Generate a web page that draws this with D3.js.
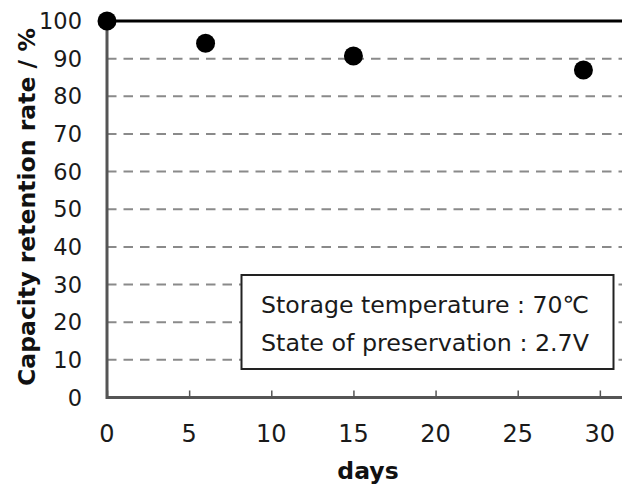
<!DOCTYPE html>
<html><head><meta charset="utf-8">
<script src="https://cdn.jsdelivr.net/npm/d3@7"></script>
<style>body{margin:0;background:#fff}svg{display:block}</style>
</head><body>
<svg id="c" width="622" height="493"></svg>
<script>
const days = [0, 6, 15, 29];
const retention = [100, 94.1, 90.7, 87.0];
const xTicks = [0, 5, 10, 15, 20, 25, 30];
const yTicks = [0, 10, 20, 30, 40, 50, 60, 70, 80, 90, 100];
const legendLines = ["Storage temperature : 70\u2103", "State of preservation : 2.7V"];
const xTitle = "days";
const yTitle = "Capacity retention rate / %";

const svg = d3.select("#c");
const font = "'DejaVu Sans', Verdana, sans-serif";
const x = d3.scaleLinear().domain([0, 31.5]).range([107, 624.5]);
const y = d3.scaleLinear().domain([0, 100]).range([397.5, 21]);

// gridlines
svg.append("g").selectAll("line").data(yTicks.filter(d => d > 0 && d < 100)).join("line")
  .attr("x1", x(0)).attr("x2", 622).attr("y1", d => y(d)).attr("y2", d => y(d))
  .attr("stroke", "#8a8a8a").attr("stroke-width", 2).attr("stroke-dasharray", "9.5,7");

// top solid line at 100
svg.append("line").attr("x1", x(0)).attr("x2", 622).attr("y1", y(100)).attr("y2", y(100))
  .attr("stroke", "#000").attr("stroke-width", 3);

// x axis
const xAxis = svg.append("g").attr("transform", `translate(0,${y(0)})`)
  .call(d3.axisBottom(x).tickValues(xTicks).tickSize(-7).tickPadding(0).tickFormat(""));
xAxis.select(".domain").attr("stroke", "#555").attr("stroke-width", 3).attr("d", `M${x(0)},0H622`);
xAxis.selectAll(".tick line").attr("stroke", "#555").attr("stroke-width", 1.5);
svg.append("g").selectAll("text").data(xTicks).join("text")
  .attr("x", d => x(d)).attr("y", 442).attr("text-anchor", "middle")
  .attr("font-family", font).attr("font-size", 24).attr("fill", "#1a1a1a").text(d => d);

// y axis
const yAxis = svg.append("g").attr("transform", `translate(${x(0)},0)`)
  .call(d3.axisLeft(y).tickValues(yTicks).tickSize(0).tickFormat(""));
yAxis.select(".domain").attr("stroke", "#555").attr("stroke-width", 3).attr("d", `M0,${y(100)}V${y(0)+1.5}`);
svg.append("g").selectAll("text").data(yTicks).join("text")
  .attr("x", 82).attr("y", d => y(d)).attr("dy", "0.36em").attr("text-anchor", "end")
  .attr("font-family", font).attr("font-size", 22.5).attr("fill", "#1a1a1a").text(d => d);

// titles
svg.append("text").attr("x", 368).attr("y", 479).attr("text-anchor", "middle")
  .attr("font-family", font).attr("font-weight", "bold").attr("font-size", 23.5)
  .attr("fill", "#111").text(xTitle);
svg.append("text").attr("transform", "translate(35,207) rotate(-90)").attr("text-anchor", "middle")
  .attr("font-family", font).attr("font-weight", "bold").attr("font-size", 23)
  .attr("fill", "#111").attr("textLength", 358).attr("lengthAdjust", "spacingAndGlyphs").text(yTitle);

// legend box
svg.append("rect").attr("x", 241.5).attr("y", 275).attr("width", 372).attr("height", 94)
  .attr("fill", "#fff").attr("stroke", "#222").attr("stroke-width", 2);
svg.append("g").selectAll("text").data(legendLines).join("text")
  .attr("x", 261).attr("y", (d, i) => 313 + i * 38)
  .attr("font-family", font).attr("font-size", 23.5).attr("fill", "#1a1a1a")
  .attr("textLength", 328).attr("lengthAdjust", "spacingAndGlyphs").text(d => d);

// points
svg.append("g").selectAll("circle").data(days.map((d, i) => [d, retention[i]])).join("circle")
  .attr("cx", d => x(d[0])).attr("cy", d => y(d[1])).attr("r", 9.5).attr("fill", "#000");
</script>
</body></html>
